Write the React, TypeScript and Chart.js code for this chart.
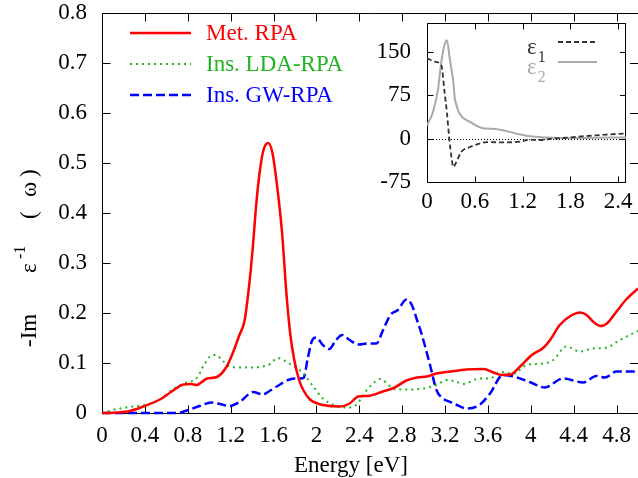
import React, { useEffect, useRef } from "react";
import { Chart, registerables } from "chart.js";
Chart.register(...registerables);

// ---------- main panel data ----------
const MET_E = [0, 0.15, 0.26, 0.385, 0.54, 0.65, 0.76, 0.83, 0.88, 0.98, 1.07, 1.16, 1.22, 1.28, 1.33, 1.38, 1.41, 1.44, 1.47, 1.505, 1.55, 1.59, 1.63, 1.68, 1.72, 1.755, 1.79, 1.84, 1.88, 1.94, 2.0, 2.06, 2.22, 2.31, 2.39, 2.48, 2.62, 2.72, 2.84, 2.94, 3.03, 3.12, 3.25, 3.4, 3.56, 3.65, 3.73, 3.81, 3.9, 4.01, 4.12, 4.18, 4.27, 4.37, 4.46, 4.52, 4.58, 4.65, 4.71, 4.8, 4.89, 5.0];
const MET_V = [0, 0.001, 0.004, 0.013, 0.027, 0.043, 0.057, 0.058, 0.056, 0.069, 0.072, 0.092, 0.12, 0.155, 0.185, 0.27, 0.34, 0.42, 0.48, 0.525, 0.54, 0.52, 0.46, 0.36, 0.24, 0.16, 0.11, 0.065, 0.045, 0.027, 0.02, 0.016, 0.013, 0.019, 0.033, 0.034, 0.043, 0.05, 0.065, 0.071, 0.073, 0.079, 0.083, 0.087, 0.088, 0.081, 0.076, 0.077, 0.093, 0.116, 0.131, 0.146, 0.176, 0.194, 0.201, 0.196, 0.183, 0.174, 0.179, 0.203, 0.227, 0.249];

const LDA_E = [0, 0.075, 0.17, 0.29, 0.42, 0.54, 0.665, 0.79, 0.88, 0.96, 1.02, 1.06, 1.12, 1.18, 1.29, 1.41, 1.5, 1.56, 1.64, 1.7, 1.76, 1.82, 1.89, 1.97, 2.06, 2.16, 2.28, 2.37, 2.47, 2.55, 2.59, 2.66, 2.72, 2.87, 3.0, 3.12, 3.22, 3.3, 3.37, 3.52, 3.62, 3.71, 3.84, 3.96, 4.12, 4.21, 4.33, 4.46, 4.58, 4.71, 4.83, 5.0];
const LDA_V = [0, 0.005, 0.009, 0.013, 0.017, 0.027, 0.048, 0.061, 0.069, 0.099, 0.115, 0.116, 0.106, 0.094, 0.091, 0.091, 0.093, 0.097, 0.11, 0.105, 0.097, 0.09, 0.076, 0.053, 0.029, 0.016, 0.011, 0.016, 0.046, 0.063, 0.068, 0.059, 0.048, 0.047, 0.049, 0.056, 0.066, 0.063, 0.058, 0.069, 0.069, 0.082, 0.079, 0.096, 0.099, 0.106, 0.133, 0.123, 0.129, 0.131, 0.146, 0.164];

const GW_E = [0, 0.7, 0.805, 0.91, 1.02, 1.1, 1.19, 1.29, 1.41, 1.5, 1.57, 1.63, 1.75, 1.83, 1.88, 1.92, 1.96, 2.0, 2.06, 2.12, 2.18, 2.24, 2.31, 2.39, 2.48, 2.56, 2.62, 2.69, 2.76, 2.84, 2.89, 2.94, 2.98, 3.06, 3.12, 3.18, 3.25, 3.31, 3.4, 3.52, 3.62, 3.74, 3.84, 4.0, 4.13, 4.3, 4.49, 4.61, 4.69, 4.8, 5.0];
const GW_V = [0, 0, 0.006, 0.014, 0.021, 0.018, 0.014, 0.023, 0.042, 0.037, 0.045, 0.053, 0.067, 0.069, 0.07, 0.11, 0.145, 0.151, 0.136, 0.128, 0.145, 0.156, 0.146, 0.137, 0.139, 0.139, 0.165, 0.196, 0.206, 0.227, 0.216, 0.185, 0.159, 0.096, 0.046, 0.029, 0.022, 0.016, 0.009, 0.016, 0.039, 0.076, 0.073, 0.061, 0.051, 0.069, 0.061, 0.074, 0.071, 0.083, 0.083];

const SERIES_LABELS = ["Met. RPA", "Ins. LDA-RPA", "Ins. GW-RPA"];
const X_TICKS = [0, 0.4, 0.8, 1.2, 1.6, 2, 2.4, 2.8, 3.2, 3.6, 4, 4.4, 4.8];
const Y_TICKS = [0, 0.1, 0.2, 0.3, 0.4, 0.5, 0.6, 0.7, 0.8];

// ---------- inset data ----------
const EPS1_E = [0, 0.1, 0.18, 0.22, 0.25, 0.28, 0.31, 0.33, 0.37, 0.43, 0.54, 0.65, 0.75, 1.0, 1.17, 1.29, 1.4, 1.58, 1.8, 2.0, 2.25, 2.5];
const EPS1_V = [139, 133, 127, 81, 45, 0, -35, -49, -40, -23, -14.5, -9, -6, -6.5, -5, -2, -2.5, 0, 2, 4.5, 7, 9];
const EPS2_E = [0, 0.075, 0.14, 0.18, 0.22, 0.25, 0.285, 0.33, 0.35, 0.37, 0.41, 0.54, 0.7, 0.83, 1.0, 1.17, 1.29, 1.5, 1.8, 2.1, 2.5];
const EPS2_V = [23, 46, 87, 133, 162, 170, 139, 98, 69, 58, 43, 29, 18, 17, 13, 7, 4, 2, 1, 1.5, 2];
const INSET_LABELS = ["1", "2"];
const INSET_X_TICKS = [0, 0.6, 1.2, 1.8, 2.4];
const INSET_Y_TICKS = [-75, 0, 75, 150];

const FONT = "'Liberation Serif', 'Times New Roman', serif";
const GREEN = "#22b422";
const FS = 23;

const pts = (xs: number[], ys: number[]) => xs.map((x, i) => ({ x, y: ys[i] }));
const fmt = (v: number) => String(Math.round(v * 10) / 10);

function framePlugin(len: number, drawRight: boolean) {
  return {
    id: "frameTicks",
    beforeDatasetsDraw(chart: any) {
      const { ctx, chartArea: a, scales } = chart;
      const x = scales.x, y = scales.y;
      ctx.save();
      ctx.strokeStyle = "#000";
      ctx.lineWidth = 1;
      ctx.setLineDash([]);
      ctx.beginPath();
      const L = Math.round(a.left) + 0.5, R = Math.round(a.right) - 0.5;
      const T = Math.round(a.top) + 0.5, B = Math.round(a.bottom) + 0.5;
      ctx.moveTo(L, T); ctx.lineTo(L, B); ctx.lineTo(a.right, B);
      ctx.moveTo(L, T); ctx.lineTo(a.right, T);
      if (drawRight) { ctx.moveTo(R, T); ctx.lineTo(R, B); }
      x.ticks.forEach((t: any) => {
        const px = Math.round(x.getPixelForValue(t.value)) + 0.5;
        ctx.moveTo(px, B); ctx.lineTo(px, B - len);
        ctx.moveTo(px, T); ctx.lineTo(px, T + len);
      });
      y.ticks.forEach((t: any) => {
        const py = Math.round(y.getPixelForValue(t.value)) + 0.5;
        ctx.moveTo(L, py); ctx.lineTo(L + len, py);
        ctx.moveTo(a.right, py); ctx.lineTo(a.right - len, py);
      });
      ctx.stroke();
      ctx.restore();
    },
  };
}

const mainDecor = {
  id: "mainDecor",
  afterDraw(chart: any) {
    const { ctx, chartArea: a } = chart;
    ctx.save();
    // legend
    chart.data.datasets.forEach((ds: any, i: number) => {
      const yy = a.top + 20 + i * 31;
      ctx.beginPath();
      ctx.strokeStyle = ds.borderColor;
      ctx.lineWidth = ds.borderWidth;
      ctx.setLineDash(ds.borderDash || []);
      ctx.moveTo(a.left + 28, yy);
      ctx.lineTo(a.left + 89, yy);
      ctx.stroke();
      ctx.setLineDash([]);
      ctx.fillStyle = ds.borderColor;
      ctx.font = `${FS}px ${FONT}`;
      ctx.textBaseline = "middle";
      ctx.textAlign = "left";
      ctx.fillText(ds.label, a.left + 104, yy + 1);
    });
    // x title
    ctx.fillStyle = "#000";
    ctx.font = `${FS}px ${FONT}`;
    ctx.textAlign = "center";
    ctx.textBaseline = "alphabetic";
    ctx.fillText("Energy [eV]", 351, 472);
    // y title (rotated, with superscript)
    ctx.translate(36, 347);
    ctx.rotate(-Math.PI / 2);
    ctx.textAlign = "left";
    ctx.font = `${FS}px ${FONT}`;
    ctx.fillText("-Im", 0, 0);
    ctx.fillText("\u03b5", 74, 0);
    ctx.font = `16px ${FONT}`;
    ctx.fillText("-1", 88, -11);
    ctx.font = `${FS}px ${FONT}`;
    ctx.fillText("(", 128, 0);
    ctx.fillText("\u03c9", 150, 0);
    ctx.fillText(")", 170, 0);
    ctx.restore();
  },
};

const insetDecor = {
  id: "insetDecor",
  beforeDatasetsDraw(chart: any) {
    const { ctx, chartArea: a, scales } = chart;
    const py = Math.round(scales.y.getPixelForValue(0)) + 0.5;
    ctx.save();
    ctx.strokeStyle = "#000";
    ctx.lineWidth = 1;
    ctx.setLineDash([1, 2]);
    ctx.beginPath();
    ctx.moveTo(a.left, py);
    ctx.lineTo(a.right, py);
    ctx.stroke();
    ctx.restore();
  },
  afterDraw(chart: any) {
    const { ctx, chartArea: a } = chart;
    ctx.save();
    chart.data.datasets.forEach((ds: any, i: number) => {
      const yy = a.top + 19 + i * 20;
      ctx.beginPath();
      ctx.strokeStyle = ds.borderColor;
      ctx.lineWidth = ds.borderWidth;
      ctx.setLineDash(ds.borderDash || []);
      ctx.moveTo(a.right - 68, yy);
      ctx.lineTo(a.right - 29, yy);
      ctx.stroke();
      ctx.setLineDash([]);
      ctx.fillStyle = ds.borderColor;
      ctx.textBaseline = "alphabetic";
      ctx.textAlign = "left";
      ctx.font = `${FS}px ${FONT}`;
      const x0 = a.right - 99;
      ctx.fillText("\u03b5", x0, yy + 12);
      const w = ctx.measureText("\u03b5").width;
      ctx.font = `16px ${FONT}`;
      ctx.fillText(ds.label, x0 + w + 1, yy + 20);
    });
    ctx.restore();
  },
};

const noPadY = (w: number) => (s: any) => { s.width = w; s.paddingTop = 0; s.paddingBottom = 0; };
const noPadX = (h: number) => (s: any) => { s.height = h; s.paddingLeft = 0; s.paddingRight = 0; };

export default function App() {
  const mainRef = useRef<HTMLCanvasElement>(null);
  const insetRef = useRef<HTMLCanvasElement>(null);

  useEffect(() => {
    document.body.style.margin = "0";
    Chart.defaults.font.family = FONT;
    Chart.defaults.color = "#000";

    const main = new Chart(mainRef.current!, {
      type: "line",
      data: {
        datasets: [
          { label: SERIES_LABELS[0], data: pts(MET_E, MET_V), borderColor: "#ff0000", borderWidth: 2.5, borderDash: [] as number[] },
          { label: SERIES_LABELS[1], data: pts(LDA_E, LDA_V), borderColor: GREEN, borderWidth: 2, borderDash: [2, 4] },
          { label: SERIES_LABELS[2], data: pts(GW_E, GW_V), borderColor: "#0000ff", borderWidth: 2.5, borderDash: [9, 4] },
        ].map((d) => ({ ...d, pointRadius: 0, cubicInterpolationMode: "monotone" as const, fill: false, clip: 4 })),
      },
      options: {
        responsive: false,
        animation: false,
        events: [],
        layout: { padding: { top: 13, left: 0, right: 0, bottom: 0 } },
        plugins: { legend: { display: false }, tooltip: { enabled: false }, title: { display: false } },
        scales: {
          x: {
            type: "linear",
            min: 0,
            max: 5,
            grid: { display: false, drawTicks: false },
            border: { display: false },
            afterBuildTicks: (s: any) => { s.ticks = X_TICKS.map((v) => ({ value: v })); },
            afterFit: noPadX(65),
            ticks: { font: { size: FS, family: FONT }, color: "#000", padding: 9, maxRotation: 0, autoSkip: false, callback: (v: any) => fmt(Number(v)) },
          },
          y: {
            type: "linear",
            min: 0,
            max: 0.8,
            grid: { display: false, drawTicks: false },
            border: { display: false },
            afterBuildTicks: (s: any) => { s.ticks = Y_TICKS.map((v) => ({ value: v })); },
            afterFit: noPadY(102),
            ticks: { font: { size: FS, family: FONT }, color: "#000", padding: 15, autoSkip: false, callback: (v: any) => fmt(Number(v)) },
          },
        },
      },
      plugins: [framePlugin(8, false), mainDecor],
    });

    const inset = new Chart(insetRef.current!, {
      type: "line",
      data: {
        datasets: [
          { label: INSET_LABELS[0], data: pts(EPS1_E, EPS1_V), borderColor: "#333333", borderWidth: 1.8, borderDash: [5, 3] },
          { label: INSET_LABELS[1], data: pts(EPS2_E, EPS2_V), borderColor: "#aaaaaa", borderWidth: 2, borderDash: [] as number[] },
        ].map((d) => ({ ...d, pointRadius: 0, cubicInterpolationMode: "monotone" as const, fill: false })),
      },
      options: {
        responsive: false,
        animation: false,
        events: [],
        layout: { padding: { top: 23, left: 0, right: 12, bottom: 0 } },
        plugins: { legend: { display: false }, tooltip: { enabled: false }, title: { display: false } },
        scales: {
          x: {
            type: "linear",
            min: 0,
            max: 2.5,
            grid: { display: false, drawTicks: false },
            border: { display: false },
            afterBuildTicks: (s: any) => { s.ticks = INSET_X_TICKS.map((v) => ({ value: v })); },
            afterFit: noPadX(48),
            ticks: { font: { size: FS, family: FONT }, color: "#000", padding: 6, maxRotation: 0, autoSkip: false, callback: (v: any) => fmt(Number(v)) },
          },
          y: {
            type: "linear",
            min: -75,
            max: 200,
            grid: { display: false, drawTicks: false },
            border: { display: false },
            afterBuildTicks: (s: any) => { s.ticks = INSET_Y_TICKS.map((v) => ({ value: v })); },
            afterFit: noPadY(87),
            ticks: { font: { size: FS, family: FONT }, color: "#000", padding: 16, autoSkip: false, callback: (v: any) => String(v) },
          },
        },
      },
      plugins: [framePlugin(6, true), insetDecor],
    });

    return () => {
      main.destroy();
      inset.destroy();
    };
  }, []);

  return (
    <div style={{ position: "relative", width: 638, height: 478, background: "#fff" }}>
      <canvas ref={mainRef} width={638} height={478} style={{ position: "absolute", left: 0, top: 0 }} />
      <canvas ref={insetRef} width={298} height={230} style={{ position: "absolute", left: 340, top: 0 }} />
    </div>
  );
}
